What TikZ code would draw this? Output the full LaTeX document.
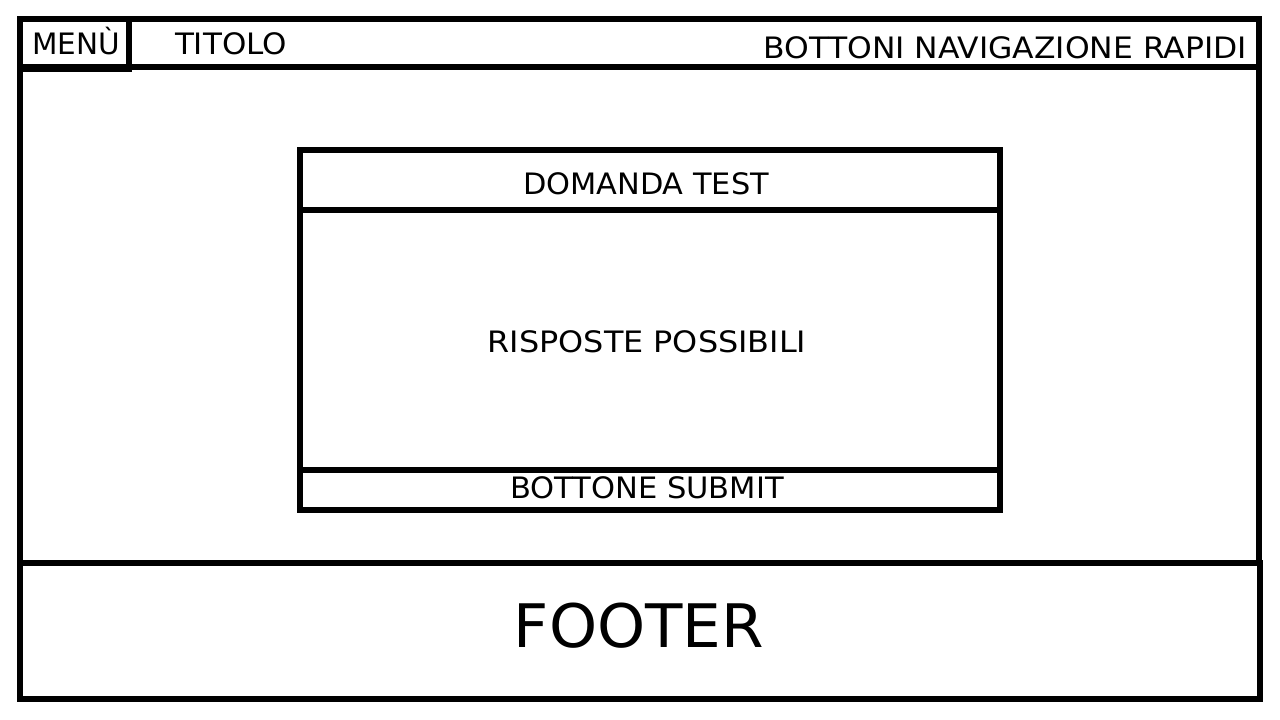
\documentclass[tikz,border=0pt]{standalone}
\usepackage{fontspec}
\usepackage{graphicx}
\setmainfont{DejaVu Sans}
\newcommand\hwide[2]{\scalebox{#1}[1]{#2}}
\begin{document}
\begin{tikzpicture}[x=1pt,y=-1pt,line width=6pt,
  box/.style={draw=black,line width=6pt},
  lbl/.style={inner sep=0pt,anchor=base,font=\fontsize{29.5}{34}\selectfont},
  big/.style={inner sep=0pt,anchor=base,font=\fontsize{60}{70}\selectfont}]
\useasboundingbox (0,0) rectangle (1280,720);
% main window
\draw[box] (20,19) rectangle (1259,563);
\draw[box] (20,67) -- (1259,67);
\draw[box] (20,19) rectangle (129,69);
% footer
\draw[box] (20,563) rectangle (1260,699);
% central test panel
\draw[box] (300,150) rectangle (1000,510);
\draw[box] (300,210) -- (1000,210);
\draw[box] (300,470) -- (1000,470);
% labels
\node[lbl] (menu) at (76,54) {MENÙ};
\node[lbl] (titolo) at (231,54) {\hwide{1.05}{TITOLO}};
\node[lbl,anchor=base east] (nav) at (1250,58) {\hwide{1.065}{BOTTONI NAVIGAZIONE RAPIDI}};
\node[lbl] (domanda) at (646,194) {\hwide{1.03}{DOMANDA TEST}};
\node[lbl] (risposte) at (647,352) {\hwide{1.08}{RISPOSTE POSSIBILI}};
\node[lbl] (submit) at (647,498) {\hwide{1.035}{BOTTONE SUBMIT}};
\node[big] (footer) at (639,647) {\hwide{1.02}{FOOTER}};
\end{tikzpicture}
\end{document}
